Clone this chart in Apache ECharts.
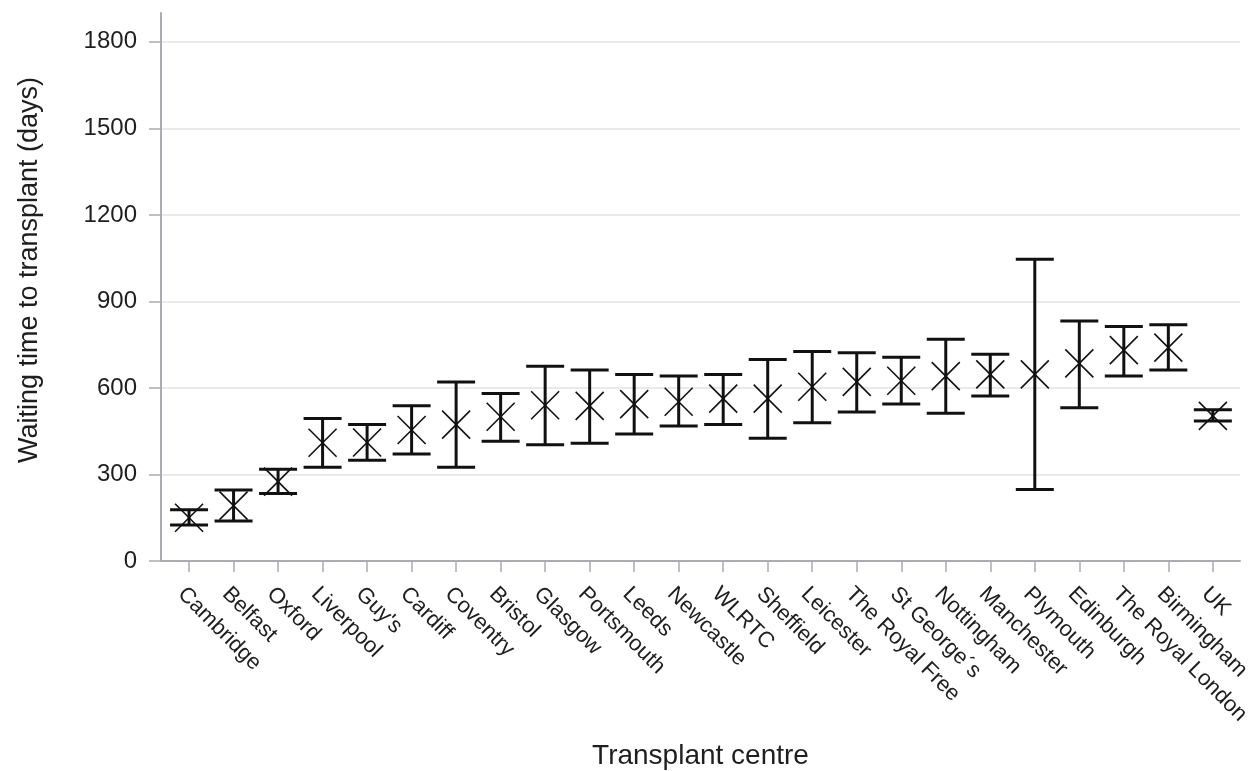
<!DOCTYPE html>
<html>
<head>
<meta charset="utf-8">
<script src="https://cdn.jsdelivr.net/npm/echarts@6/dist/echarts.min.js"></script>
<style>
html,body{margin:0;padding:0;background:#fff;}
#chart{width:1252px;height:771px;}
</style>
</head>
<body>
<div id="chart"></div>
<script>
const categories = ["Cambridge","Belfast","Oxford","Liverpool","Guy's","Cardiff","Coventry","Bristol","Glasgow","Portsmouth","Leeds","Newcastle","WLRTC","Sheffield","Leicester","The Royal Free","St George\u00B4s","Nottingham","Manchester","Plymouth","Edinburgh","The Royal London","Birmingham","UK"];
const means = [150,192,275,410,411,454,473,500,540,538,544,552,563,563,604,621,625,641,647,647,685,731,740,503];
const lower = [125,139,234,325,349,371,325,415,403,408,440,468,473,426,479,517,544,512,572,248,531,641,662,485];
const upper = [178,246,318,494,473,538,621,581,675,662,647,641,647,699,726,722,706,769,717,1046,832,813,819,524];
const yTicks = [0,300,600,900,1200,1500,1800];

const idx = categories.map((c,i)=>i);
const data = categories.map((c,i)=>[i, means[i], lower[i], upper[i]]);
const FONT = 'Liberation Sans, Arial, sans-serif';

const chart = echarts.init(document.getElementById('chart'), null, {renderer:'canvas'});
chart.setOption({
  animation:false,
  backgroundColor:'#fff',
  grid:{left:161, right:12, top:13, bottom:210, containLabel:false, outerBoundsMode:'none'},
  xAxis:{
    type:'value', min:-0.63, max:23.61,
    name:'Transplant centre', nameLocation:'middle', nameGap:181,
    nameTextStyle:{fontSize:28, color:'#1e1e1e', fontFamily:FONT},
    axisLine:{show:true, onZero:false, lineStyle:{color:'#a9adb1', width:2}},
    axisTick:{show:true, length:11, customValues:idx, lineStyle:{color:'#a9adb1', width:1.5}},
    axisLabel:{customValues:idx, rotate:-45, margin:22, verticalAlign:'top', fontSize:22, color:'#1e1e1e', fontFamily:FONT,
      formatter:(v)=>categories[Math.round(v)] || ''},
    splitLine:{show:false}
  },
  yAxis:{
    type:'value', min:0, max:1900,
    name:'Waiting time to transplant (days)', nameLocation:'middle', nameGap:118, nameRotate:90,
    nameTextStyle:{fontSize:27, color:'#1e1e1e', fontFamily:FONT, padding:[0,0,0,34]},
    axisLine:{show:true, onZero:false, lineStyle:{color:'#a9adb1', width:2}},
    axisTick:{show:true, inside:false, length:12, customValues:yTicks, lineStyle:{color:'#a9adb1', width:1.5}},
    axisLabel:{customValues:yTicks, margin:24, fontSize:24, color:'#1e1e1e', fontFamily:FONT,
      formatter:(v)=>String(v)},
    splitLine:{show:true, lineStyle:{color:'#e3e3e3', width:1.5}}
  },
  series:[{
    type:'custom',
    data:data,
    encode:{x:0, y:[1,2,3]},
    renderItem:function(params, api){
      const x = api.value(0);
      const m = api.coord([x, api.value(1)]);
      const lo = api.coord([x, api.value(2)]);
      const hi = api.coord([x, api.value(3)]);
      const cw = 19, xs = 14;
      const thick = {stroke:'#111', lineWidth:3};
      const thin = {stroke:'#111', lineWidth:1.6};
      return {type:'group', children:[
        {type:'line', shape:{x1:lo[0], y1:lo[1], x2:hi[0], y2:hi[1]}, style:thick},
        {type:'line', shape:{x1:lo[0]-cw, y1:lo[1], x2:lo[0]+cw, y2:lo[1]}, style:thick},
        {type:'line', shape:{x1:hi[0]-cw, y1:hi[1], x2:hi[0]+cw, y2:hi[1]}, style:thick},
        {type:'line', shape:{x1:m[0]-xs, y1:m[1]-xs, x2:m[0]+xs, y2:m[1]+xs}, style:thin},
        {type:'line', shape:{x1:m[0]-xs, y1:m[1]+xs, x2:m[0]+xs, y2:m[1]-xs}, style:thin}
      ]};
    }
  }]
});
</script>
</body>
</html>
